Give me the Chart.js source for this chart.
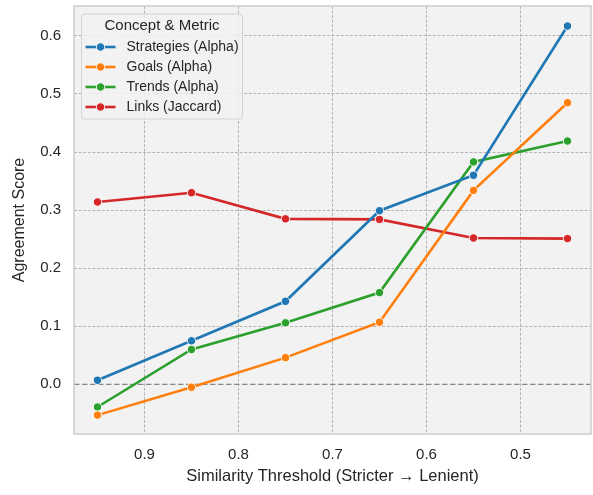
<!DOCTYPE html>
<html>
<head>
<meta charset="utf-8">
<script src="https://cdn.jsdelivr.net/npm/chart.js@4.4.1/dist/chart.umd.min.js"></script>
<style>
  html, body { margin: 0; padding: 0; background: #ffffff; }
  #wrap { width: 593px; height: 495px; }
</style>
</head>
<body>
<div id="wrap"><canvas id="c" width="593" height="495"></canvas></div>
<script>
// ---- Data ----
const thresholds = [0.95, 0.85, 0.75, 0.65, 0.55, 0.45];
const strategiesAlpha = [0.007, 0.075, 0.143, 0.299, 0.360, 0.617];
const goalsAlpha      = [-0.053, -0.005, 0.046, 0.107, 0.334, 0.485];
const trendsAlpha     = [-0.039, 0.060, 0.106, 0.158, 0.383, 0.419];
const linksJaccard    = [0.314, 0.330, 0.285, 0.284, 0.252, 0.251];
const seriesNames = ['Strategies (Alpha)', 'Goals (Alpha)', 'Trends (Alpha)', 'Links (Jaccard)'];
const seriesColors = ['#1f77b4', '#ff7f0e', '#2ca02c', '#d62728'];
const legendTitle = 'Concept & Metric';
const xTitle = 'Similarity Threshold (Stricter \u2192 Lenient)';
const yTitle = 'Agreement Score';

const FONT = '"Liberation Sans", Arial, Helvetica, sans-serif';
const TEXT = '#262626';

function pts(vals) { return thresholds.map((x, i) => ({ x: x, y: vals[i] })); }
const allSeries = [strategiesAlpha, goalsAlpha, trendsAlpha, linksJaccard];

const datasets = allSeries.map((vals, i) => ({
  label: seriesNames[i],
  data: pts(vals),
  borderColor: seriesColors[i],
  backgroundColor: seriesColors[i],
  borderWidth: 2.6,
  pointRadius: 4.2,
  pointHoverRadius: 4.2,
  pointBorderColor: '#ffffff',
  pointBorderWidth: 0.9,
  pointBackgroundColor: seriesColors[i],
  tension: 0,
  fill: false,
  clip: false
}));

function zeroPad(scale) {
  scale.paddingTop = 0; scale.paddingBottom = 0;
  scale.paddingLeft = 0; scale.paddingRight = 0;
}

const decorPlugin = {
  id: 'decor',
  beforeDraw(chart) {
    const { ctx, chartArea: a } = chart;
    ctx.save();
    ctx.fillStyle = '#f2f2f2';
    ctx.fillRect(a.left, a.top, a.right - a.left, a.bottom - a.top);
    ctx.restore();
  },
  beforeDatasetsDraw(chart) {
    const { ctx, chartArea: a, scales } = chart;
    const y0 = scales.y.getPixelForValue(0);
    ctx.save();
    ctx.strokeStyle = '#888888';
    ctx.lineWidth = 1.4;
    ctx.setLineDash([5.5, 2.5]);
    ctx.beginPath();
    ctx.moveTo(a.left, y0);
    ctx.lineTo(a.right, y0);
    ctx.stroke();
    ctx.restore();
  },
  afterDraw(chart) {
    const { ctx, chartArea: a } = chart;
    ctx.save();
    ctx.strokeStyle = '#cccccc';
    ctx.lineWidth = 1.5;
    ctx.strokeRect(a.left, a.top, a.right - a.left, a.bottom - a.top);

    const bx = 81.5, by = 14, bw = 161, bh = 105;
    ctx.beginPath();
    ctx.roundRect(bx, by, bw, bh, 3);
    ctx.fillStyle = 'rgba(242,242,242,0.85)';
    ctx.fill();
    ctx.strokeStyle = '#d3d3d3';
    ctx.lineWidth = 1;
    ctx.stroke();

    ctx.fillStyle = TEXT;
    ctx.textBaseline = 'middle';
    ctx.textAlign = 'center';
    ctx.font = '15px ' + FONT;
    ctx.fillText(legendTitle, bx + bw / 2, 25.5);

    ctx.textAlign = 'left';
    ctx.font = '14px ' + FONT;
    chart.data.datasets.forEach((ds, i) => {
      const yy = 47 + i * 20;
      ctx.strokeStyle = ds.borderColor;
      ctx.lineWidth = 2.6;
      ctx.beginPath();
      ctx.moveTo(85.5, yy);
      ctx.lineTo(115.5, yy);
      ctx.stroke();
      ctx.beginPath();
      ctx.arc(100.5, yy, 4.2, 0, Math.PI * 2);
      ctx.fillStyle = ds.borderColor;
      ctx.fill();
      ctx.strokeStyle = '#ffffff';
      ctx.lineWidth = 0.9;
      ctx.stroke();
      ctx.fillStyle = TEXT;
      ctx.fillText(ds.label, 126.5, yy + 0.5);
    });
    ctx.restore();
  }
};

new Chart(document.getElementById('c'), {
  type: 'line',
  data: { datasets: datasets },
  plugins: [decorPlugin],
  options: {
    responsive: false,
    animation: false,
    devicePixelRatio: 1,
    layout: { autoPadding: false, padding: { left: 0, top: 6, right: 2, bottom: 0 } },
    plugins: {
      legend: { display: false },
      tooltip: { enabled: false }
    },
    scales: {
      x: {
        type: 'linear',
        reverse: true,
        min: 0.425,
        max: 0.975,
        afterFit(scale) { scale.height = 61; zeroPad(scale); },
        ticks: {
          stepSize: 0.1,
          includeBounds: false,
          padding: 12,
          color: TEXT,
          font: { family: FONT, size: 15 },
          callback: v => Number(v).toFixed(1)
        },
        grid: { color: '#b4b4b4', lineWidth: 1, drawTicks: false },
        border: { display: false, dash: [3, 1.6] },
        title: {
          display: true,
          text: xTitle,
          color: TEXT,
          font: { family: FONT, size: 16.5 },
          padding: { top: 0, bottom: 9 }
        }
      },
      y: {
        type: 'linear',
        min: -0.0855,
        max: 0.6515,
        afterFit(scale) { scale.width = 74; zeroPad(scale); },
        ticks: {
          stepSize: 0.1,
          includeBounds: false,
          padding: 13,
          color: TEXT,
          font: { family: FONT, size: 15 },
          callback: v => Number(v).toFixed(1)
        },
        grid: {
          color: ctx => (ctx.tick && Math.abs(ctx.tick.value) < 1e-9) ? 'rgba(0,0,0,0)' : '#b4b4b4',
          lineWidth: 1,
          drawTicks: false
        },
        border: { display: false, dash: [3, 1.6] },
        title: {
          display: true,
          text: yTitle,
          color: TEXT,
          font: { family: FONT, size: 16 },
          padding: { top: 9.5, bottom: 0 }
        }
      }
    }
  }
});
</script>
</body>
</html>
